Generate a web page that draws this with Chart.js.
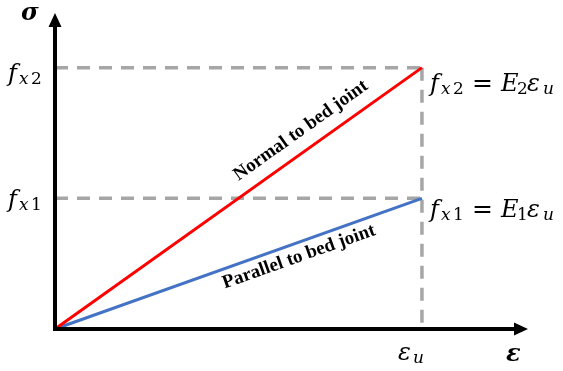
<!DOCTYPE html>
<html><head><meta charset="utf-8">
<script src="https://cdn.jsdelivr.net/npm/chart.js@4/dist/chart.umd.min.js"></script>
<style>html,body{margin:0;padding:0;background:#fff}canvas{display:block}</style>
</head><body>
<canvas id="c" width="563" height="371"></canvas>
<script>
// Linear stress-strain model of masonry: loading normal vs parallel to bed joints
const strainPoints = [0, 1];        // ε, normalised so that ε_u = 1
const stressNormal = [0, 1];        // σ reaching f_x2 = E2·ε_u
const stressParallel = [0, 0.5];    // σ reaching f_x1 = E1·ε_u
const epsU = 1;
const fx2 = 1;
const fx1 = 0.5;
const axisEnd = { x: 1.289, y: 1.209 };
const lineLabels = ['Normal to bed joint', 'Parallel to bed joint'];

const toPoints = (xs, ys) => xs.map((x, i) => ({ x, y: ys[i] }));

const guide = (pts) => ({
  data: pts, borderColor: '#a6a6a6', borderWidth: 3.5, borderDash: [13, 9],
  borderCapStyle: 'butt', pointRadius: 0, fill: false, clip: false
});

const SERIF = '"Liberation Serif", "Times New Roman", serif';
const MATH = '"DejaVu Serif", serif';

// Draw a run of math glyphs; each piece has an offset from the start x
function drawMath(ctx, runs, x, y) {
  for (const r of runs) {
    ctx.font = `${r.b ? 'bold ' : ''}${r.it ? 'italic ' : ''}${r.s}px ${MATH}`;
    ctx.fillText(r.t, x + r.at, y + (r.dy || 0));
  }
}
const fSub = (d) => [
  { t: 'f', s: 24, it: true, at: 0 },
  { t: 'x', s: 17, it: true, at: 11, dy: 3 },
  { t: d, s: 17, at: 23, dy: 3 }
];
const fEq = (d) => fSub(d).concat([
  { t: '=', s: 25, at: 42 },
  { t: 'E', s: 24, it: true, at: 71 },
  { t: d, s: 17, at: 87, dy: 3 },
  { t: 'ε', s: 24, it: true, at: 97 },
  { t: 'u', s: 17, it: true, at: 113, dy: 3 }
]);

// Axes with arrowheads, plus all text annotations
const annotate = {
  id: 'annotate',
  afterDatasetsDraw(chart) {
    const { ctx, scales: { x, y } } = chart;
    const x0 = x.getPixelForValue(0), y0 = y.getPixelForValue(0);
    const xEnd = x.getPixelForValue(axisEnd.x), yEnd = y.getPixelForValue(axisEnd.y);
    ctx.save();
    ctx.strokeStyle = '#000'; ctx.fillStyle = '#000'; ctx.lineWidth = 4; ctx.lineCap = 'butt';
    ctx.beginPath();
    ctx.moveTo(x0, y0 + 2); ctx.lineTo(x0, yEnd + 10);
    ctx.moveTo(x0 - 2, y0); ctx.lineTo(xEnd - 10, y0);
    ctx.stroke();
    ctx.beginPath();
    ctx.moveTo(x0, yEnd); ctx.lineTo(x0 - 6.5, yEnd + 14); ctx.lineTo(x0 + 6.5, yEnd + 14); ctx.closePath();
    ctx.moveTo(xEnd, y0); ctx.lineTo(xEnd - 14, y0 - 6.5); ctx.lineTo(xEnd - 14, y0 + 6.5); ctx.closePath();
    ctx.fill();

    // axis titles
    ctx.textBaseline = 'alphabetic'; ctx.textAlign = 'left';
    ctx.font = `bold italic 24px ${MATH}`;
    ctx.fillText('σ', x0 - 34, yEnd + 7);
    ctx.fillText('ε', xEnd - 22, y0 + 32);

    const pxU = x.getPixelForValue(epsU);
    const py2 = y.getPixelForValue(fx2), py1 = y.getPixelForValue(fx1);
    drawMath(ctx, [{ t: 'ε', s: 24, it: true, at: 0 }, { t: 'u', s: 17, it: true, at: 15, dy: 3 }], pxU - 24, y0 + 31);
    drawMath(ctx, fSub('2'), x0 - 47, py2 + 13);
    drawMath(ctx, fSub('1'), x0 - 47, py1 + 9);
    drawMath(ctx, fEq('2'), pxU + 8, py2 + 23);
    drawMath(ctx, fEq('1'), pxU + 8, py1 + 19);

    // labels set along each line
    const along = (vals, frac, off, text) => {
      const xa = x.getPixelForValue(strainPoints[0]), ya = y.getPixelForValue(vals[0]);
      const xb = x.getPixelForValue(strainPoints[1]), yb = y.getPixelForValue(vals[1]);
      const ang = Math.atan2(yb - ya, xb - xa);
      const cx = xa + (xb - xa) * frac + Math.sin(ang) * off;
      const cy = ya + (yb - ya) * frac - Math.cos(ang) * off;
      ctx.save();
      ctx.translate(cx, cy); ctx.rotate(ang);
      ctx.font = `bold 19px ${SERIF}`;
      ctx.textAlign = 'center'; ctx.textBaseline = 'middle';
      ctx.fillText(text, 0, 0);
      ctx.restore();
    };
    along(stressNormal, 0.70, 19, lineLabels[0]);
    along(stressParallel, 0.652, -14, lineLabels[1]);
    ctx.restore();
  }
};

new Chart(document.getElementById('c'), {
  type: 'line',
  data: {
    datasets: [
      { data: toPoints(strainPoints, stressNormal), borderColor: '#ff0000', borderWidth: 3, pointRadius: 0, clip: false },
      { data: toPoints(strainPoints, stressParallel), borderColor: '#4472c4', borderWidth: 3, pointRadius: 0, clip: false },
      guide([{ x: 0, y: fx2 }, { x: epsU, y: fx2 }]),
      guide([{ x: 0, y: fx1 }, { x: epsU, y: fx1 }]),
      guide([{ x: epsU, y: fx2 }, { x: epsU, y: 0 }])
    ]
  },
  options: {
    responsive: false, devicePixelRatio: 1, animation: false,
    layout: { padding: { left: 55, right: 35, top: 13, bottom: 42 } },
    plugins: { legend: { display: false }, tooltip: { enabled: false } },
    scales: {
      x: { type: 'linear', min: 0, max: axisEnd.x, display: false },
      y: { type: 'linear', min: 0, max: axisEnd.y, display: false }
    }
  },
  plugins: [annotate]
});
</script>
</body></html>
